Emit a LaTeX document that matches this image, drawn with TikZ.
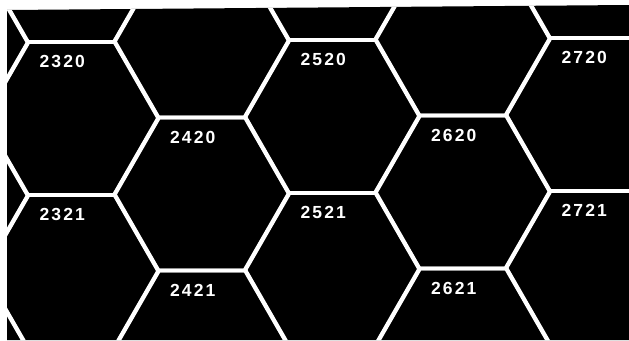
\documentclass[tikz,border=0pt]{standalone}
\usepackage{fontspec}
\setmainfont[LetterSpace=12]{Liberation Sans}
\usetikzlibrary{positioning}

\begin{document}
\begin{tikzpicture}[x=1pt, y=-1pt,
    hexline/.style={white, line width=3.8pt, line join=round},
    hexlabel/.style={text=white, font=\bfseries\fontsize{17.5}{19}\selectfont, inner sep=0pt}
]
\useasboundingbox (0,0) rectangle (629,340);
\fill[white] (0,0) rectangle (629,340);

% black map sheet
\fill[black] (7,10) -- (629,5) -- (629,340) -- (7,340) -- cycle;

% hex grid, columns 22..28
\begin{scope}
\clip (7,10) -- (629,5) -- (629,340) -- (7,340) -- cycle;
\foreach \c in {-1,...,5} {
  \foreach \r in {-1,...,2} {
    \pgfmathsetmacro{\cx}{71.25+130.5*\c}
    \pgfmathsetmacro{\cy}{118.5+76.5*mod(\c+2,2)+153*\r-0.0077*(\cx-71)}
    \draw[hexline] (\cx-43.25,\cy-76.5) -- ++(86.5,0) -- ++(44,76.5) -- ++(-44,76.5)
        -- ++(-86.5,0) -- ++(-44,-76.5) -- cycle;
  }
}
\end{scope}

% hex numbers
\foreach \c/\col in {0/23,1/24,2/25,3/26,4/27} {
  \foreach \r/\row in {0/20,1/21} {
    \pgfmathsetmacro{\cx}{71.25+130.5*\c}
    \pgfmathsetmacro{\cy}{118.5+76.5*mod(\c,2)+153*\r-0.0077*(\cx-71)}
    \node[hexlabel] (h\col\row) at (\cx-9,\cy-57) {\col\row};
  }
}

\end{tikzpicture}
\end{document}
